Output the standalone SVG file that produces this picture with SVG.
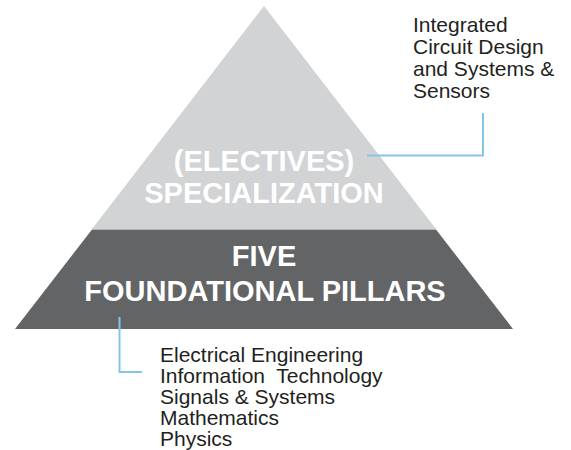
<svg xmlns="http://www.w3.org/2000/svg" width="571" height="450" viewBox="0 0 571 450">
  <style>
    .tier-title { font-family: "Liberation Sans", Arial, sans-serif; font-weight: bold; font-size: 29px; fill: #ffffff; text-anchor: middle; }
    .note { font-family: "Liberation Sans", Arial, sans-serif; font-size: 21px; fill: #231f20; }
    .link { fill: none; stroke: #86c5ea; stroke-width: 2; }
  </style>
  <rect width="571" height="450" fill="#ffffff"/>

  <!-- upper tier: electives -->
  <g id="specialization">
    <polygon points="264,6 436,229 92,229" fill="#d1d3d4"/>
    <text class="tier-title" x="264" y="171">(ELECTIVES)</text>
    <text class="tier-title" x="264" y="203">SPECIALIZATION</text>
  </g>

  <!-- lower tier: core pillars -->
  <g id="foundational-pillars">
    <polygon points="92,229.5 436,229.5 513,329 15,329" fill="#636466"/>
    <text class="tier-title" x="264" y="266">FIVE</text>
    <text class="tier-title" x="265" y="301">FOUNDATIONAL PILLARS</text>
  </g>

  <!-- elective topics -->
  <g id="elective-list">
    <text class="note" x="413" y="32">Integrated</text>
    <text class="note" x="413" y="54">Circuit Design</text>
    <text class="note" x="413" y="76">and Systems &amp;</text>
    <text class="note" x="413" y="98">Sensors</text>
  </g>

  <!-- pillar subjects -->
  <g id="pillar-list">
    <text class="note" x="160" y="362">Electrical Engineering</text>
    <text class="note" x="160" y="383" xml:space="preserve">Information  Technology</text>
    <text class="note" x="160" y="404">Signals &amp; Systems</text>
    <text class="note" x="160" y="425">Mathematics</text>
    <text class="note" x="160" y="446">Physics</text>
  </g>

  <!-- callout connectors -->
  <g id="connectors">
    <polyline class="link" points="367,155.5 483,155.5 483,113"/>
    <polyline class="link" points="119.5,317 119.5,372 142,372"/>
  </g>
</svg>
